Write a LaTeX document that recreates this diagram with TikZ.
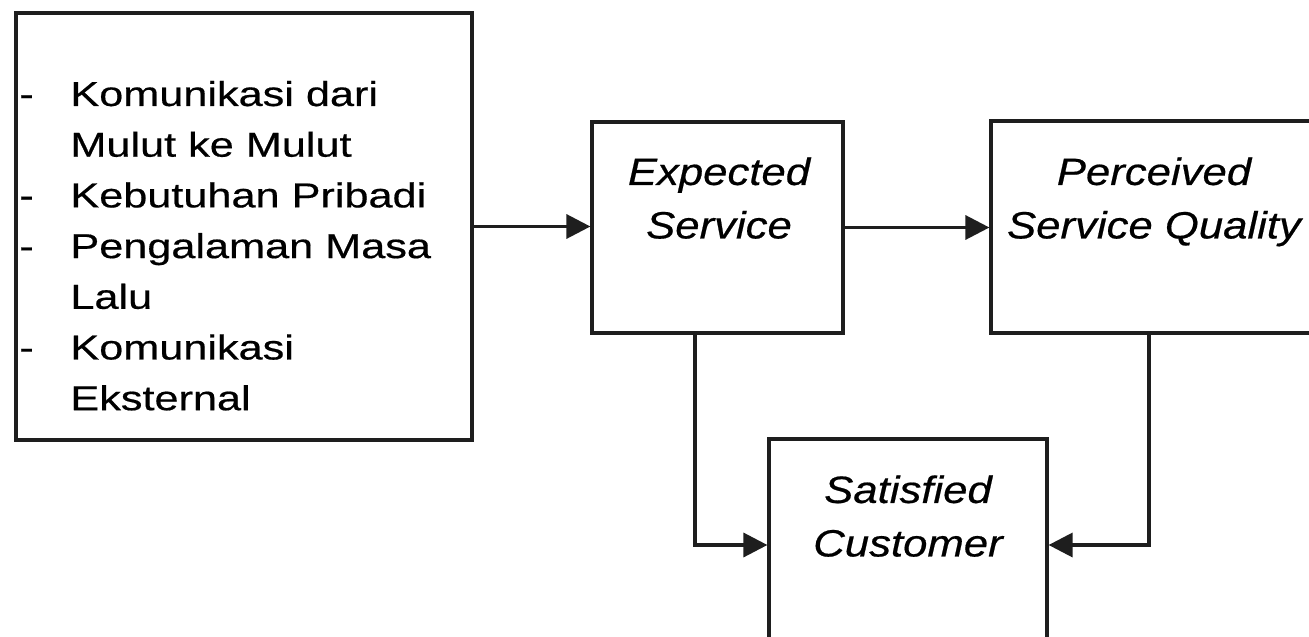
\documentclass[tikz,border=0pt]{standalone}
\usepackage{fontspec}
\setmainfont{Liberation Sans}
\newfontfamily\lefttext[FakeStretch=1.25,FakeBold=0.5]{Liberation Sans}
\newfontfamily\boxtext[FakeStretch=1.15,FakeBold=0.5]{Liberation Sans}
\usetikzlibrary{arrows.meta,calc}
\definecolor{ink}{RGB}{30,30,30}
\begin{document}
\begin{tikzpicture}[x=0.5pt,y=-0.5pt,
  box/.style={draw=ink, line width=1.6pt, inner sep=0pt, rectangle},
  conn/.style={draw=ink, line width=1.7pt, -{Triangle[length=12pt,width=12pt]}},
  lbl/.style={font=\boxtext\itshape\fontsize{19}{26.75}\selectfont, align=center, inner sep=0pt, text=black, anchor=north},
  srclbl/.style={font=\lefttext\fontsize{17.3}{25.35}\selectfont, align=left, inner sep=0pt, text=black, anchor=north west}
]
\useasboundingbox (0,0) rectangle (1309,636);
\clip (0,0) rectangle (1309,636);
\fill[white] (0,0) rectangle (1309,636);
% boxes
\node[box, minimum width=228pt, minimum height=213.5pt] (src) at (244,226.5) {};
\node[box, minimum width=125.5pt, minimum height=105.5pt] (exp) at (717.5,227.5) {};
\node[box, minimum width=163pt, minimum height=106pt] (per) at (1154,227) {};
\node[box, minimum width=139pt, minimum height=106pt] (sat) at (908,545) {};
% texts
\node[srclbl] (srctext) at (19,80.5) {\makebox[25.5pt][l]{-}Komunikasi dari\\
\hspace*{25.5pt}Mulut ke Mulut\\
\makebox[25.5pt][l]{-}Kebutuhan Pribadi\\
\makebox[25.5pt][l]{-}Pengalaman Masa\\
\hspace*{25.5pt}Lalu\\
\makebox[25.5pt][l]{-}Komunikasi\\
\hspace*{25.5pt}Eksternal};
\node[lbl] (exptext) at (719,157) {Expected\\Service};
\node[lbl] (pertext) at (1154,157) {Perceived\\Service Quality};
\node[lbl] (sattext) at (908,475) {Satisfied\\Customer};
% connectors
\draw[conn] (src.east) -- (src.east -| exp.west);
\draw[conn] (exp.east) -- (exp.east -| per.west);
\draw[conn] ([xshift=-11.25pt]exp.south) |- (sat.west);
\draw[conn] ([xshift=-2.5pt]per.south) |- (sat.east);
\end{tikzpicture}
\end{document}
